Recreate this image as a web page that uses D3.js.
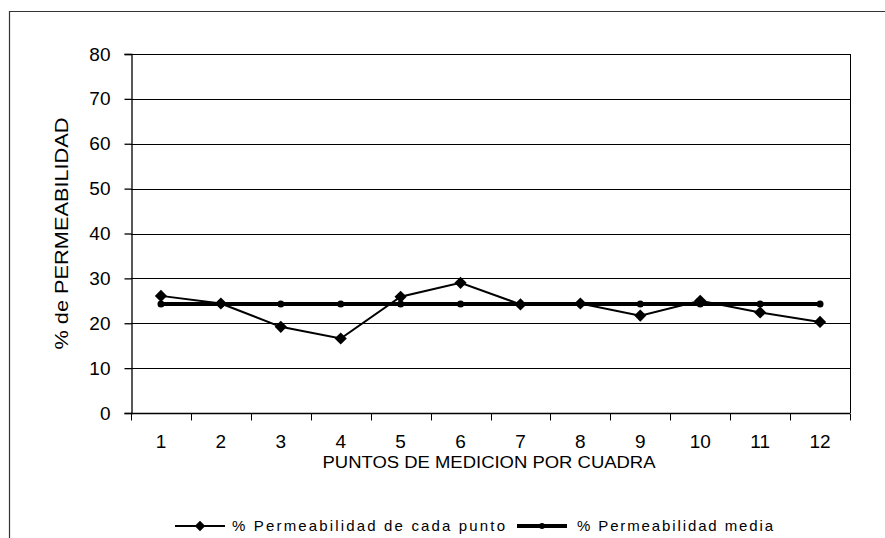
<!DOCTYPE html>
<html>
<head>
<meta charset="utf-8">
<script src="https://cdn.jsdelivr.net/npm/d3@7"></script>
<style>
  body { margin: 0; background: #fff; }
  text { font-family: "Liberation Sans", Arial, sans-serif; fill: #000; }
</style>
</head>
<body>
<div id="chart"></div>
<script>
// Data
const puntos = ["1", "2", "3", "4", "5", "6", "7", "8", "9", "10", "11", "12"];
const permCadaPunto = [26.1, 24.4, 19.2, 16.6, 25.9, 29.0, 24.2, 24.4, 21.7, 25.0, 22.4, 20.3];
const permMedia = [24.3, 24.3, 24.3, 24.3, 24.3, 24.3, 24.3, 24.3, 24.3, 24.3, 24.3, 24.3];
const yTicks = [0, 10, 20, 30, 40, 50, 60, 70, 80];

const w = 885, h = 538;
const margin = { top: 54, right: 35, bottom: 125, left: 131 };

const svg = d3.select("#chart").append("svg")
    .attr("width", w)
    .attr("height", h);

// outer frame (only top and left visible)
svg.append("path")
    .attr("d", `M9.5,${h} V11.5 H${w}`)
    .attr("fill", "none")
    .attr("stroke", "#333")
    .attr("stroke-width", 1.2);

// Scales
const x = d3.scaleBand()
    .domain(puntos)
    .range([margin.left, w - margin.right]);

const y = d3.scaleLinear()
    .domain([0, 80])
    .range([h - margin.bottom, margin.top]);

// Gridlines
svg.append("g")
    .selectAll("line")
    .data(yTicks.filter(d => d > 0))
    .enter()
    .append("line")
    .attr("x1", margin.left)
    .attr("x2", w - margin.right)
    .attr("y1", d => Math.round(y(d)) + 0.5)
    .attr("y2", d => Math.round(y(d)) + 0.5)
    .attr("stroke", "#000")
    .attr("stroke-width", 1);

// right border of plot
svg.append("line")
    .attr("x1", w - margin.right + 0.5)
    .attr("x2", w - margin.right + 0.5)
    .attr("y1", y(80))
    .attr("y2", y(0))
    .attr("stroke", "#000");

// Y axis
const yAxis = svg.append("g")
    .attr("transform", `translate(${margin.left + 0.5},0)`)
    .call(d3.axisLeft(y).tickValues(yTicks).tickSize(7).tickPadding(14));
yAxis.selectAll("text")
    .attr("font-size", 19)
    .attr("font-family", "Liberation Sans, Arial, sans-serif");
yAxis.selectAll("line, path").attr("stroke", "#000").attr("stroke-width", 1.3);

// X axis: ticks between categories
const xAxisG = svg.append("g")
    .attr("transform", `translate(0,${Math.round(y(0)) + 0.5})`);
xAxisG.append("line")
    .attr("x1", margin.left)
    .attr("x2", w - margin.right)
    .attr("stroke", "#000")
    .attr("stroke-width", 1.5);
const bounds = puntos.map(d => x(d)).concat([x(puntos[puntos.length - 1]) + x.bandwidth()]);
xAxisG.selectAll("line.tk")
    .data(bounds)
    .enter()
    .append("line")
    .attr("class", "tk")
    .attr("x1", d => Math.round(d) + 0.5)
    .attr("x2", d => Math.round(d) + 0.5)
    .attr("y1", 0)
    .attr("y2", 7)
    .attr("stroke", "#000")
    .attr("stroke-width", 1);
xAxisG.selectAll("text")
    .data(puntos)
    .enter()
    .append("text")
    .attr("x", d => x(d) + x.bandwidth() / 2)
    .attr("y", 34)
    .attr("text-anchor", "middle")
    .attr("font-size", 19)
    .text(d => d);

// Axis titles
svg.append("text")
    .attr("transform", `translate(68,${(y(0) + y(80)) / 2}) rotate(-90)`)
    .attr("text-anchor", "middle")
    .attr("font-size", 19)
    .attr("textLength", 232)
    .attr("lengthAdjust", "spacingAndGlyphs")
    .text("% de PERMEABILIDAD");

svg.append("text")
    .attr("x", 489)
    .attr("y", 468)
    .attr("text-anchor", "middle")
    .attr("font-size", 16)
    .attr("textLength", 333)
    .attr("lengthAdjust", "spacingAndGlyphs")
    .text("PUNTOS DE MEDICION POR CUADRA");

// Series lines
const cx = d => x(d) + x.bandwidth() / 2;

const lineSerie = d3.line()
    .x((d, i) => cx(puntos[i]))
    .y(d => y(d));

svg.append("path")
    .datum(permMedia)
    .attr("fill", "none")
    .attr("stroke", "#000")
    .attr("stroke-width", 4)
    .attr("d", lineSerie);

svg.append("g")
    .selectAll("circle")
    .data(permMedia)
    .enter()
    .append("circle")
    .attr("cx", (d, i) => cx(puntos[i]))
    .attr("cy", d => y(d))
    .attr("r", 3.5)
    .attr("fill", "#000");

svg.append("path")
    .datum(permCadaPunto)
    .attr("fill", "none")
    .attr("stroke", "#000")
    .attr("stroke-width", 2)
    .attr("d", lineSerie);

const diamond = d3.symbol().type(d3.symbolDiamond2).size(95);
svg.append("g")
    .selectAll("path")
    .data(permCadaPunto)
    .enter()
    .append("path")
    .attr("transform", (d, i) => `translate(${cx(puntos[i])},${y(d)})`)
    .attr("d", diamond)
    .attr("fill", "#000");

// Legend
const legend = svg.append("g");
const legendY = 526;

legend.append("line")
    .attr("x1", 175).attr("x2", 225)
    .attr("y1", legendY).attr("y2", legendY)
    .attr("stroke", "#000").attr("stroke-width", 2);
legend.append("path")
    .attr("transform", `translate(200,${legendY})`)
    .attr("d", d3.symbol().type(d3.symbolDiamond2).size(70))
    .attr("fill", "#000");
legend.append("text")
    .attr("x", 232).attr("y", legendY + 5)
    .attr("font-family", "Liberation Mono, Courier New, monospace")
    .attr("font-size", 15)
    .attr("textLength", 273)
    .attr("lengthAdjust", "spacing")
    .text("% Permeabilidad de cada punto");

legend.append("line")
    .attr("x1", 517).attr("x2", 567)
    .attr("y1", legendY).attr("y2", legendY)
    .attr("stroke", "#000").attr("stroke-width", 4);
legend.append("circle")
    .attr("cx", 542).attr("cy", legendY)
    .attr("r", 3)
    .attr("fill", "#000");
legend.append("text")
    .attr("x", 577).attr("y", legendY + 5)
    .attr("font-family", "Liberation Mono, Courier New, monospace")
    .attr("font-size", 15)
    .attr("textLength", 196)
    .attr("lengthAdjust", "spacing")
    .text("% Permeabilidad media");
</script>
</body>
</html>
